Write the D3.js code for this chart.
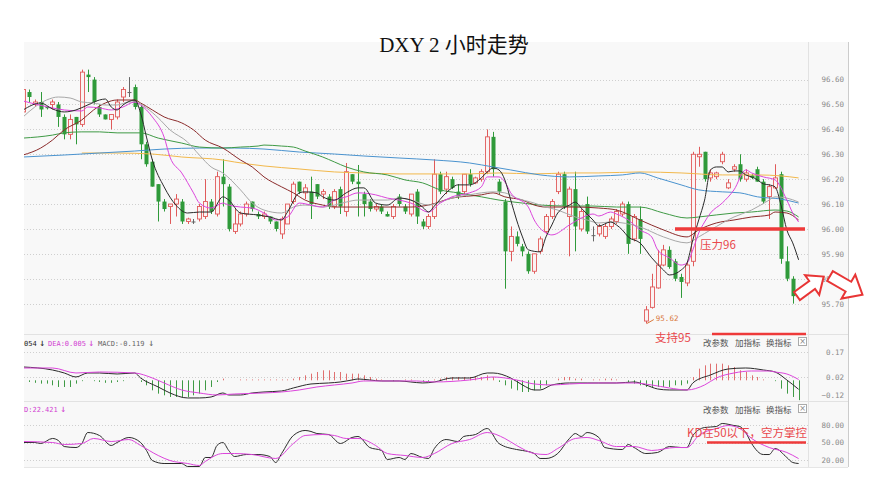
<!DOCTYPE html>
<html lang="zh">
<head>
    <meta charset="UTF-8">
    <title>DXY 2小时走势</title>
    <script src="https://d3js.org/d3.v7.min.js"></script>
    <style>
        body { margin: 0; background: #fff; }
    </style>
</head>
<body>

<script>
    // K线数据：开、高、低、收
    const open = [96.47,96.55,96.50,96.51,96.49,96.50,96.50,96.45,96.38,96.45,
        96.42,96.62,96.60,96.49,96.46,96.44,96.45,96.53,96.55,96.57,
        96.49,96.34,96.27,96.18,96.11,96.09,96.10,96.11,96.03,96.03,
        96.04,96.05,96.11,96.06,96.21,96.17,95.99,96.02,96.06,96.11,
        96.06,96.05,96.05,96.03,95.98,96.02,96.11,96.19,96.145,96.15,
        96.18,96.14,96.13,96.09,96.16,96.07,96.22,96.19,96.14,96.11,
        96.08,96.09,96.06,96.05,96.13,96.09,96.06,96.15,96.03,96.01,
        96.05,96.22,96.16,96.20,96.15,96.15,96.22,96.185,96.20,96.23,
        96.37,96.19,96.11,95.91,95.97,95.93,95.90,95.83,95.91,95.99,
        96.05,96.15,96.22,96.05,96.16,96.00,96.10,95.975,95.98,95.97,
        96.01,96.03,96.06,96.10,95.96,96.04,95.63,95.685,95.763,95.855,
        95.916,95.87,95.807,95.783,95.87,96.29,96.31,96.205,96.21,96.27,
        96.165,96.24,96.26,96.20,96.215,96.24,96.19,96.13,96.165,96.22,
        95.87,95.80,95.725];
    const high = [96.57,96.56,96.52,96.55,96.49,96.52,96.51,96.46,96.46,96.45,
        96.64,96.64,96.61,96.50,96.46,96.46,96.52,96.57,96.61,96.58,
        96.50,96.35,96.28,96.18,96.12,96.10,96.14,96.12,96.045,96.04,
        96.10,96.20,96.12,96.23,96.28,96.18,96.08,96.07,96.11,96.11,
        96.07,96.07,96.05,96.03,96.05,96.10,96.19,96.19,96.18,96.21,
        96.18,96.16,96.14,96.16,96.17,96.265,96.22,96.257,96.15,96.12,
        96.10,96.10,96.07,96.10,96.14,96.10,96.14,96.16,96.04,96.06,
        96.28,96.23,96.23,96.21,96.18,96.22,96.24,96.21,96.24,96.40,
        96.39,96.20,96.12,96.01,95.99,95.94,95.91,95.90,95.97,96.06,
        96.12,96.23,96.23,96.17,96.23,96.08,96.13,96.01,96.02,96.02,
        96.05,96.08,96.11,96.11,96.06,96.09,95.69,95.82,95.916,95.936,
        95.93,95.88,95.82,95.87,96.31,96.33,96.31,96.24,96.23,96.31,
        96.20,96.26,96.30,96.24,96.22,96.25,96.20,96.18,96.26,96.23,
        95.93,95.81,95.74];
    const low = [96.46,96.51,96.49,96.45,96.48,96.48,96.41,96.36,96.36,96.34,
        96.41,96.55,96.50,96.45,96.44,96.40,96.44,96.51,96.53,96.48,
        96.28,96.25,96.17,96.03,96.07,96.02,96.05,96.02,96.02,96.02,
        96.03,96.04,96.06,96.05,96.09,95.99,95.98,96.01,96.05,96.07,
        96.04,96.04,96.02,95.99,95.96,96.02,96.10,96.14,96.12,96.04,
        96.12,96.12,96.08,96.08,96.06,96.05,96.18,96.05,96.05,96.07,
        96.07,96.06,96.05,96.04,96.09,96.06,96.05,96.02,96.00,96.00,
        96.04,96.14,96.14,96.16,96.12,96.14,96.17,96.18,96.19,96.22,
        96.21,96.14,95.76,95.87,95.93,95.89,95.82,95.82,95.90,95.98,
        96.04,96.14,96.08,95.89,95.91,95.99,95.98,95.95,95.97,95.96,
        96.00,96.02,96.05,95.90,95.95,95.90,95.62,95.68,95.76,95.85,
        95.84,95.79,95.723,95.77,95.85,96.25,96.19,96.19,96.20,96.26,
        96.16,96.23,96.19,96.19,96.20,96.19,96.10,96.04,96.16,95.86,
        95.79,95.70,95.71];
    const close = [96.56,96.53,96.51,96.48,96.485,96.51,96.45,96.38,96.44,96.42,
        96.63,96.61,96.51,96.46,96.44,96.46,96.51,96.56,96.55,96.49,
        96.34,96.26,96.17,96.11,96.08,96.10,96.12,96.03,96.04,96.03,
        96.09,96.11,96.07,96.21,96.18,96.00,96.02,96.06,96.10,96.08,
        96.05,96.06,96.03,96.00,96.04,96.10,96.18,96.15,96.165,96.10,
        96.13,96.15,96.09,96.15,96.09,96.23,96.19,96.18,96.10,96.08,
        96.09,96.07,96.05,96.09,96.10,96.07,96.14,96.05,96.01,96.05,
        96.22,96.15,96.21,96.165,96.13,96.22,96.18,96.205,96.23,96.37,
        96.24,96.15,95.91,95.97,95.94,95.91,95.83,95.90,95.96,96.05,
        96.11,96.22,96.09,96.16,96.01,96.07,95.99,95.975,96.01,96.01,
        96.04,96.07,96.10,95.94,96.05,95.96,95.675,95.767,95.855,95.916,
        95.847,95.80,95.787,95.855,96.30,96.30,96.20,96.225,96.225,96.30,
        96.185,96.25,96.20,96.225,96.205,96.19,96.11,96.17,96.205,95.88,
        95.80,95.73,95.735];

    // 均线 [K线序号, 值]
    const ma5 = [[0,96.478],[3,96.506],[5,96.482],[7,96.470],[9,96.478],[11,96.498],[13,96.518],[14,96.522],
        [15,96.490],[16,96.478],[17,96.498],[19,96.518],[20,96.466],[21,96.369],[22,96.277],[24,96.169],
        [26,96.096],[28,96.064],[30,96.068],[32,96.068],[34,96.129],[35,96.116],[37,96.064],[40,96.056],
        [42,96.048],[44,96.036],[45,96.068],[47,96.145],[48,96.149],[50,96.145],[51,96.129],[53,96.116],
        [55,96.145],[57,96.165],[58,96.165],[60,96.104],[62,96.096],[64,96.124],[66,96.116],[68,96.088],
        [69,96.068],[70,96.092],[72,96.145],[73,96.165],[74,96.177],[76,96.177],[78,96.205],[79,96.229],
        [80,96.245],[81,96.237],[82,96.197],[83,96.116],[84,96.036],[85,95.968],[86,95.916],[88,95.908],
        [89,95.968],[90,96.016],[91,96.064],[93,96.096],[94,96.108],[95,96.084],[97,96.036],[98,96.012],
        [100,96.028],[101,96.016],[102,95.996],[103,95.968],[105,95.944],[107,95.884],[109,95.835],
        [110,95.815],[112,95.835],[113,95.863],[114,95.956],[115,96.036],[116,96.116],[117,96.237],
        [118,96.249],[119,96.249],[120,96.229],[121,96.233],[122,96.233],[123,96.217],[124,96.209],
        [125,96.197],[126,96.181],[127,96.177],[128,96.169],[129,96.096],[130,95.996],[131,95.944],[132,95.876]];
    const ma10 = [[0,96.514],[5,96.486],[7,96.478],[10,96.474],[11,96.490],[13,96.486],[15,96.478],[17,96.490],
        [19,96.510],[20,96.498],[22,96.450],[24,96.369],[25,96.289],[27,96.225],[29,96.145],[30,96.104],
        [32,96.084],[34,96.104],[35,96.096],[37,96.088],[39,96.084],[41,96.064],[43,96.036],[45,96.048],
        [47,96.104],[49,96.096],[51,96.088],[53,96.116],[55,96.129],[57,96.145],[60,96.137],[62,96.124],
        [64,96.116],[66,96.104],[69,96.068],[71,96.104],[73,96.129],[76,96.145],[78,96.169],[79,96.209],
        [81,96.209],[82,96.189],[83,96.145],[86,96.088],[87,96.036],[89,95.984],[90,95.976],[93,96.016],
        [95,96.044],[97,96.060],[98,96.052],[100,96.068],[101,96.060],[103,96.036],[105,95.996],[107,95.968],
        [108,95.916],[110,95.884],[112,95.855],[113,95.863],[114,95.916],[115,95.984],[116,96.028],
        [117,96.064],[119,96.104],[121,96.157],[123,96.237],[124,96.225],[126,96.209],[128,96.197],
        [130,96.116],[131,96.064],[132,96.028]];
    const ma20 = [[0,96.450],[2,96.490],[4,96.518],[6,96.530],[8,96.526],[10,96.510],[12,96.506],[14,96.498],
        [16,96.498],[18,96.510],[19,96.510],[21,96.486],[23,96.446],[25,96.398],[28,96.349],[30,96.297],
        [32,96.249],[34,96.225],[37,96.157],[39,96.104],[41,96.076],[44,96.064],[46,96.088],[48,96.096],
        [51,96.088],[53,96.096],[55,96.108],[57,96.116],[60,96.116],[62,96.116],[64,96.124],[66,96.116],
        [69,96.096],[71,96.108],[73,96.124],[76,96.137],[78,96.145],[80,96.149],[82,96.145],[84,96.124],
        [87,96.104],[89,96.088],[91,96.076],[94,96.048],[96,96.036],[98,96.024],[100,96.028],[105,96.008],
        [109,95.968],[113,95.944],[115,95.968],[117,95.996],[121,96.048],[124,96.076],[127,96.116],
        [128,96.129],[130,96.124],[132,96.108]];
    const ma30 = [[0,96.297],[3,96.325],[5,96.357],[7,96.398],[10,96.438],[12,96.478],[14,96.506],[16,96.518],
        [19,96.518],[20,96.506],[22,96.478],[24,96.450],[27,96.426],[29,96.398],[31,96.357],[34,96.325],
        [37,96.277],[39,96.249],[41,96.209],[44,96.169],[46,96.145],[48,96.116],[51,96.096],[53,96.088],
        [58,96.088],[66,96.088],[69,96.096],[73,96.124],[78,96.137],[80,96.145],[82,96.129],[85,96.116],
        [87,96.096],[89,96.088],[94,96.088],[98,96.084],[101,96.076],[105,96.036],[109,95.996],[113,95.968],
        [115,95.996],[118,96.024],[121,96.036],[124,96.048],[127,96.056],[128,96.068],[130,96.064],[132,96.036]];
    const ma60 = [[0,96.365],[5,96.377],[7,96.386],[10,96.390],[13,96.390],[16,96.386],[20,96.386],[23,96.365],
        [27,96.345],[30,96.329],[34,96.325],[37,96.329],[40,96.333],[41,96.337],[44,96.333],[46,96.329],
        [48,96.313],[51,96.289],[53,96.269],[55,96.249],[58,96.229],[62,96.217],[65,96.197],[68,96.185],
        [71,96.157],[74,96.145],[78,96.129],[81,96.116],[85,96.104],[88,96.096],[93,96.092],[97,96.092],
        [101,96.088],[105,96.088],[109,96.064],[113,96.044],[115,96.048],[121,96.064],[124,96.068],
        [128,96.076],[130,96.072],[132,96.048]];
    const ma120 = [[0,96.289],[7,96.297],[13,96.305],[19,96.313],[24,96.321],[30,96.325],[36,96.325],[41,96.321],
        [47,96.309],[53,96.301],[58,96.293],[64,96.285],[70,96.277],[76,96.265],[80,96.249],[83,96.237],
        [88,96.217],[93,96.209],[98,96.213],[102,96.217],[105,96.225],[108,96.205],[112,96.177],[115,96.157],
        [119,96.149],[122,96.145],[125,96.129],[129,96.120],[132,96.104]];
    const ma250 = [[10,96.305],[16,96.305],[22,96.301],[27,96.289],[34,96.277],[36,96.269],[41,96.253],
        [47,96.241],[53,96.229],[58,96.225],[64,96.221],[76,96.221],[81,96.225],[87,96.221],[93,96.225],
        [98,96.225],[105,96.229],[112,96.225],[119,96.217],[125,96.217],[129,96.213],[132,96.205]];

    // MACD
    const macdBar = [-0.005,-0.01,-0.015,-0.02,-0.02,-0.03,-0.04,-0.04,-0.04,-0.02,
        -0.005,0,-0.005,-0.01,-0.015,-0.015,-0.01,-0.005,0,0,
        -0.01,-0.03,-0.06,-0.08,-0.09,-0.10,-0.10,-0.10,-0.10,-0.09,
        -0.08,-0.06,-0.04,-0.01,0.01,0,0,0.005,0.005,0.005,
        0.005,0.005,0.005,0.005,0.005,0.005,0.01,0.02,0.03,0.04,
        0.05,0.06,0.06,0.05,0.05,0.04,0.04,0.04,0.03,0.02,
        0.01,0.005,0,-0.005,0,0.005,0.005,0,-0.01,-0.01,
        0.005,0.01,0.02,0.02,0.02,0.02,0.02,0.02,0.02,0.03,
        0.02,-0.01,-0.03,-0.05,-0.06,-0.07,-0.07,-0.06,-0.05,-0.03,
        0,0.01,0.02,0.02,0.01,0.01,0,0.005,0.005,0.01,
        0.01,0.005,0,-0.01,-0.02,-0.03,-0.04,-0.04,-0.04,-0.04,
        -0.04,-0.03,-0.03,-0.02,0.02,0.07,0.09,0.10,0.10,0.10,
        0.09,0.08,0.06,0.05,0.03,0.02,0.005,0,-0.005,-0.05,
        -0.08,-0.10,-0.119];
    const dif = [[0,0.080],[5,0.062],[7,0.044],[9,0.020],[11,0.044],[13,0.044],[16,0.038],[19,0.044],[20,0.014],
        [23,-0.040],[25,-0.076],[28,-0.106],[30,-0.106],[32,-0.100],[34,-0.076],[35,-0.088],[37,-0.088],
        [39,-0.076],[41,-0.070],[44,-0.064],[46,-0.046],[49,-0.022],[52,-0.016],[54,-0.010],[56,0.002],
        [57,0.008],[59,0.002],[61,-0.004],[64,-0.004],[66,-0.010],[68,-0.016],[70,-0.010],[73,0.014],
        [76,0.014],[79,0.044],[80,0.044],[83,0.014],[85,-0.028],[87,-0.058],[88,-0.058],[90,-0.028],
        [93,-0.016],[96,-0.016],[98,-0.016],[101,-0.016],[104,-0.010],[106,-0.028],[108,-0.052],[110,-0.058],
        [113,-0.058],[114,-0.016],[117,0.032],[120,0.068],[123,0.074],[126,0.062],[128,0.050],[130,0.002],
        [132,-0.054]];
    const dea = [[0,0.074],[5,0.074],[9,0.044],[13,0.050],[19,0.044],[22,0.014],[24,-0.016],[27,-0.058],
        [30,-0.076],[33,-0.088],[36,-0.082],[41,-0.076],[44,-0.070],[47,-0.058],[50,-0.040],[53,-0.028],
        [56,-0.016],[58,-0.004],[61,-0.004],[67,-0.004],[70,-0.010],[76,0.002],[80,0.020],[84,0.002],
        [87,-0.022],[90,-0.028],[93,-0.022],[98,-0.016],[104,-0.016],[107,-0.028],[110,-0.046],[113,-0.058],
        [116,-0.028],[118,0.014],[121,0.044],[124,0.056],[127,0.056],[128,0.050],[130,0.038],[132,0.005]];

    // KD
    const kLine = [[0,50.0],[2,50.0],[3,48.3],[5,56.9],[6,53.4],[7,43.1],[9,41.4],[10,48.3],[11,67.1],[13,62.0],
        [15,44.9],[16,50.0],[18,58.6],[20,50.0],[21,36.3],[22,19.1],[24,14.0],[27,14.0],[28,8.9],[30,8.9],
        [31,24.3],[32,24.3],[33,44.9],[34,50.0],[35,36.3],[36,26.0],[38,29.4],[40,29.4],[42,26.0],[43,15.7],
        [44,31.1],[46,62.0],[48,70.6],[49,68.9],[50,65.4],[52,63.7],[54,48.3],[56,58.6],[57,60.3],[59,41.4],
        [61,36.3],[62,20.9],[64,24.3],[65,20.9],[66,31.1],[68,24.3],[69,22.6],[70,39.7],[72,55.1],[74,51.7],
        [75,60.3],[77,63.7],[79,74.0],[81,48.3],[84,38.0],[85,36.3],[87,31.1],[88,22.6],[89,22.6],[91,31.1],
        [93,56.9],[94,65.4],[95,60.3],[96,67.1],[98,58.6],[99,41.4],[102,38.0],[103,46.6],[104,41.4],
        [106,31.1],[108,32.9],[110,43.1],[112,41.4],[113,41.4],[114,62.0],[116,75.7],[118,77.4],[119,82.6],
        [121,79.1],[122,77.4],[123,67.1],[124,48.3],[126,29.4],[127,29.4],[128,39.7],[130,24.3],[131,15.7],
        [132,14.0]];
    const dLine = [[0,51.7],[5,50.0],[7,46.6],[10,48.3],[12,56.9],[15,51.7],[18,55.1],[20,44.9],[23,27.7],
        [25,19.1],[28,14.0],[30,10.6],[31,17.4],[34,31.1],[36,31.1],[39,29.4],[43,22.6],[46,48.3],[48,62.0],
        [51,63.7],[53,62.0],[55,56.9],[57,56.9],[60,44.9],[62,31.1],[65,27.7],[68,24.3],[70,31.1],[73,48.3],
        [76,55.1],[79,67.1],[82,56.9],[84,44.9],[87,31.1],[89,29.4],[91,39.7],[94,56.9],[96,58.6],[98,53.4],
        [101,43.1],[104,43.1],[107,36.3],[111,41.4],[113,41.4],[115,62.0],[118,74.0],[120,79.1],[122,74.0],
        [124,56.9],[127,41.4],[130,32.9],[132,22.421]];

    // 刻度
    const priceTicks = [96.60, 96.50, 96.40, 96.30, 96.20, 96.10, 96.00, 95.90, 95.80, 95.70];
    const macdTicks = [0.17, 0.02, -0.12];
    const kdTicks = [80, 50, 20];

    const width = 869, height = 491;
    const left = 24, right = 808, axisRight = 848;

    const svg = d3.select("body").append("svg")
        .attr("width", width)
        .attr("height", height)
        .style("display", "block")
        .style("font-family", "'DejaVu Sans Mono', monospace");

    // 背景
    svg.append("rect").attr("x", left).attr("y", 42).attr("width", axisRight - left).attr("height", 425)
        .attr("fill", "#f8f8f8");

    const x = d3.scaleLinear().domain([0, open.length - 1]).range([23.1, 798.6]);
    const y = d3.scaleLinear().domain([95.582, 96.751]).range([333, 42]);
    const yMacd = d3.scaleLinear().domain([-0.12, 0.17]).range([400.3, 352]);
    const yKd = d3.scaleLinear().domain([20, 80]).range([460, 425]);

    const defs = svg.append("defs");
    function clip(id, y0, y1) {
        defs.append("clipPath").attr("id", id).append("rect")
            .attr("x", left).attr("y", y0).attr("width", right - left).attr("height", y1 - y0);
    }
    clip("cMain", 42, 333);
    clip("cMacd", 336, 401);
    clip("cKd", 403, 467);

    // 网格虚线
    function grid(scale, ticks) {
        svg.append("g").selectAll("line").data(ticks).enter().append("line")
            .attr("x1", left).attr("x2", right)
            .attr("y1", d => Math.round(scale(d)) + 0.5).attr("y2", d => Math.round(scale(d)) + 0.5)
            .attr("stroke", "#cfcfcf").attr("stroke-dasharray", "1,2");
    }
    grid(y, priceTicks);
    grid(yMacd, macdTicks.slice(0, 2));
    grid(yKd, kdTicks);

    // 分隔线
    [[334.5, "#e2e2e2"], [401.5, "#e2e2e2"], [467.5, "#e6e6e6"]].forEach(d => {
        svg.append("line").attr("x1", left).attr("x2", axisRight).attr("y1", d[0]).attr("y2", d[0])
            .attr("stroke", d[1]);
    });
    svg.append("line").attr("x1", right + 0.5).attr("x2", right + 0.5).attr("y1", 42).attr("y2", 467)
        .attr("stroke", "#e2e2e2");
    svg.append("line").attr("x1", axisRight + 0.5).attr("x2", axisRight + 0.5).attr("y1", 42).attr("y2", 467)
        .attr("stroke", "#cccccc");

    // 右侧坐标轴
    function axis(scale, ticks, fmt) {
        const g = svg.append("g").attr("transform", "translate(845,0)")
            .call(d3.axisLeft(scale).tickValues(ticks).tickSize(0).tickPadding(1).tickFormat(fmt));
        g.select(".domain").remove();
        g.selectAll("text").attr("fill", "#8a8a8a").style("font-size", "7.5px")
            .style("font-family", "'DejaVu Sans Mono', monospace");
        return g;
    }
    axis(y, priceTicks, d3.format(".2f"));
    const gm = axis(yMacd, macdTicks, d3.format(".2f"));
    gm.selectAll(".tick").filter(d => d === -0.12).select("text").attr("dy", "-0.35em");
    axis(yKd, kdTicks, d3.format(".2f"));

    // 主图
    const main = svg.append("g").attr("clip-path", "url(#cMain)");
    const idx = d3.range(open.length);
    const up = "#e05a5a", down = "#2f9a3a", flat = "#666";
    const col = i => close[i] > open[i] ? up : (close[i] < open[i] ? down : flat);

    main.selectAll(".wick").data(idx).enter().append("line")
        .attr("x1", i => Math.round(x(i)) + 0.5).attr("x2", i => Math.round(x(i)) + 0.5)
        .attr("y1", i => y(high[i])).attr("y2", i => y(low[i]))
        .attr("stroke", col);

    main.selectAll(".body").data(idx).enter().append("rect")
        .attr("x", i => Math.round(x(i)) - 1.5)
        .attr("y", i => y(Math.max(open[i], close[i])))
        .attr("width", 4)
        .attr("height", i => Math.max(1, Math.abs(y(open[i]) - y(close[i]))))
        .attr("fill", i => close[i] > open[i] ? "#fbf3f3" : col(i))
        .attr("stroke", i => close[i] > open[i] ? up : "none")
        .attr("stroke-width", 0.9);

    const maLine = (sc) => d3.line().x(d => x(d[0])).y(d => sc(d[1])).curve(d3.curveMonotoneX);
    [[ma250, "#f2b84b"], [ma120, "#4a93cf"], [ma60, "#3f9a45"], [ma30, "#8b2b2b"],
        [ma20, "#a8a8a8"], [ma10, "#dc45dc"], [ma5, "#2a2a2a"]].forEach(s => {
        main.append("path").attr("d", maLine(y)(s[0]))
            .attr("fill", "none").attr("stroke", s[1]).attr("stroke-width", 1);
    });

    // 最低价标注
    const lowIdx = d3.minIndex(low);
    main.append("line")
        .attr("x1", x(lowIdx) + 1).attr("y1", y(low[lowIdx]))
        .attr("x2", x(lowIdx) + 8).attr("y2", y(low[lowIdx]) - 4)
        .attr("stroke", "#d9773a");
    main.append("text")
        .attr("x", x(lowIdx) + 10).attr("y", y(low[lowIdx]) - 3)
        .attr("fill", "#d9773a").style("font-size", "7.5px")
        .text(d3.format(".2f")(low[lowIdx]));

    // MACD 副图
    const macd = svg.append("g").attr("clip-path", "url(#cMacd)");
    macd.selectAll("line").data(idx).enter().append("line")
        .attr("x1", i => Math.round(x(i)) + 0.5).attr("x2", i => Math.round(x(i)) + 0.5)
        .attr("y1", yMacd(0)).attr("y2", i => yMacd(macdBar[i]))
        .attr("stroke", i => macdBar[i] >= 0 ? "#e07070" : "#3f9a45");
    macd.append("path").attr("d", maLine(yMacd)(dif)).attr("fill", "none").attr("stroke", "#2a2a2a");
    macd.append("path").attr("d", maLine(yMacd)(dea)).attr("fill", "none").attr("stroke", "#dc45dc");

    // KD 副图
    const kd = svg.append("g").attr("clip-path", "url(#cKd)");
    kd.append("path").attr("d", maLine(yKd)(kLine)).attr("fill", "none").attr("stroke", "#2a2a2a");
    kd.append("path").attr("d", maLine(yKd)(dLine)).attr("fill", "none").attr("stroke", "#dc45dc");

    // 副图标题
    const head = svg.append("g").style("font-size", "7px");
    const macdHead = [["054", 24, "#222"], ["↓", 39, "#222"], ["DEA:0.005", 48, "#d23fd2"],
        ["↓", 88, "#d23fd2"], ["MACD:-0.119", 98, "#666"], ["↓", 148, "#666"]];
    macdHead.forEach(d => head.append("text").attr("x", d[1]).attr("y", 346).attr("fill", d[2])
        .style("font-size", d[0] === "↓" ? "10px" : "7px").text(d[0]));
    head.append("text").attr("x", 24).attr("y", 412).attr("fill", "#d23fd2").text("D:22.421");
    head.append("text").attr("x", 60).attr("y", 412).attr("fill", "#d23fd2").style("font-size", "10px").text("↓");

    // 改参数 加指标 换指标
    [346, 413].forEach(yy => {
        [["改参数", 703], ["加指标", 735], ["换指标", 766]].forEach(d => {
            svg.append("text").attr("x", d[1]).attr("y", yy).attr("fill", "#555")
                .style("font-family", "'Noto Sans CJK SC'").style("font-size", "8.5px").text(d[0]);
        });
        svg.append("rect").attr("x", 798.5).attr("y", yy - 8.5).attr("width", 8).attr("height", 8)
            .attr("fill", "#fff").attr("stroke", "#aaa");
        svg.append("text").attr("x", 802.5).attr("y", yy - 1.8).attr("text-anchor", "middle")
            .attr("fill", "#888").style("font-size", "8px").style("font-family", "'DejaVu Sans'").text("×");
    });

    // 标题
    const title = svg.append("text").attr("x", 454).attr("y", 52).attr("text-anchor", "middle")
        .style("font-size", "21px").attr("fill", "#111");
    title.append("tspan").style("font-family", "'Liberation Serif'").text("DXY 2 ");
    title.append("tspan").style("font-family", "'Noto Sans CJK SC'").text("小时走势");

    // 红色标注
    const red = "#ee3a3a", redText = "#e9494d";
    const cjk = "'Noto Sans CJK SC'";
    svg.append("line").attr("x1", 675).attr("x2", 805).attr("y1", y(96.00)).attr("y2", y(96.00))
        .attr("stroke", red).attr("stroke-width", 3.5);
    svg.append("text").attr("x", 700).attr("y", 249).attr("fill", redText)
        .style("font-family", cjk).style("font-size", "11.5px").text("压力96");
    svg.append("line").attr("x1", 712).attr("x2", 806).attr("y1", 334).attr("y2", 334)
        .attr("stroke", red).attr("stroke-width", 2.5);
    svg.append("text").attr("x", 655).attr("y", 342).attr("fill", redText)
        .style("font-family", cjk).style("font-size", "11.5px").text("支持95");
    svg.append("line").attr("x1", 707).attr("x2", 806).attr("y1", yKd(50)).attr("y2", yKd(50))
        .attr("stroke", red).attr("stroke-width", 2.5);
    svg.append("text").attr("x", 687).attr("y", 437).attr("fill", redText)
        .style("font-family", cjk).style("font-size", "11.5px").text("KD在50以下，空方掌控");

    // 空心箭头
    const arrowPath = "M0,-4.5 L17,-4.5 L17,-11 L30,0 L17,11 L17,4.5 L0,4.5 Z";
    [[797, 296, -36, 1.1], [830, 276, 30, 1.25]].forEach(a => {
        svg.append("path").attr("d", arrowPath)
            .attr("transform", `translate(${a[0]},${a[1]}) rotate(${a[2]}) scale(${a[3]})`)
            .attr("fill", "#fff").attr("stroke", "#e83535").attr("stroke-width", 2 / a[3]);
    });
</script>
</body>
</html>
